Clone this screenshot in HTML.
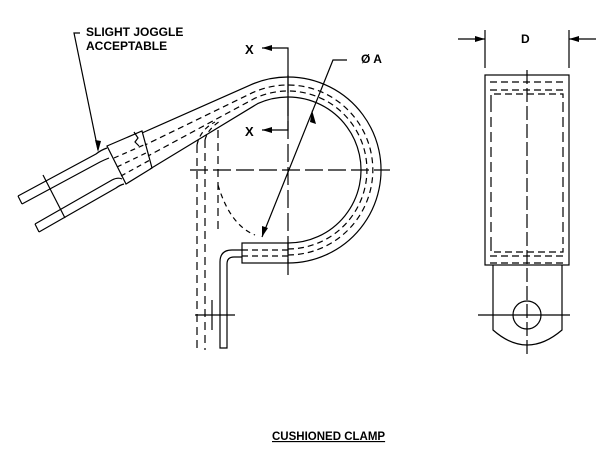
<!DOCTYPE html>
<html><head><style>
body{margin:0;background:#fff;width:600px;height:469px;overflow:hidden}
text{font-family:"Liberation Sans",Arial,sans-serif;font-weight:bold;fill:#000}
</style></head><body>
<svg width="600" height="469" viewBox="0 0 600 469" xmlns="http://www.w3.org/2000/svg">
<g fill="none" stroke="#000" stroke-width="1.2">
<line x1="190" y1="170" x2="390" y2="170" stroke-dasharray="18,5"/>
<line x1="288" y1="75" x2="288" y2="275" stroke-dasharray="18,5"/>
<polyline points="262,48 288,48 288,130 262,130"/>
<!-- clamp loop -->
<path d="M288,263 A93,93 0 1 0 249.4,85.4 L142,133"/>
<path d="M288,243 A73,73 0 1 0 257.7,103.6 L150,169"/>
<path d="M288,255 A85,85 0 1 0 252.7,92.6 L145,145" stroke-dasharray="6,4"/>
<path d="M288,249 A79,79 0 1 0 255.2,98.1 L148,156" stroke-dasharray="6,4"/>
<!-- tab -->
<rect x="242" y="243" width="46" height="20"/>
<line x1="242" y1="250" x2="288" y2="250" stroke-dasharray="6,4"/>
<line x1="242" y1="256" x2="288" y2="256" stroke-dasharray="6,4"/>
<!-- joggle box -->
<polygon points="107,146 142,131 152,168 126,184"/>
<line x1="114" y1="158" x2="146" y2="144" stroke-dasharray="5,4"/>
<line x1="117" y1="167" x2="148" y2="152" stroke-dasharray="5,4"/>
<line x1="121" y1="176" x2="150" y2="160" stroke-dasharray="5,4"/>
<path d="M134,132 l4,6 -3,4 4,4"/>
<!-- rails -->
<path d="M18,196 L96,154 Q101,150 107,148"/>
<path d="M22,204 L100,162 Q104,160 109,158"/>
<line x1="18" y1="196" x2="22" y2="204"/>
<path d="M35,224 L112,180 Q118,177 122,179"/>
<path d="M39,232 L116,188 Q120,185 124,184"/>
<line x1="35" y1="224" x2="39" y2="232"/>
<line x1="43" y1="175" x2="65" y2="218"/>
<!-- phantom lines -->
<line x1="197" y1="145" x2="197" y2="350" stroke-dasharray="8,5"/>
<line x1="205" y1="140" x2="205" y2="350" stroke-dasharray="8,5"/>
<line x1="218" y1="130" x2="218" y2="230" stroke-dasharray="8,5"/>
<path d="M197,145 Q200,130 215,122" stroke-dasharray="5,4"/>
<path d="M205,140 Q208,128 222,120" stroke-dasharray="5,4"/>
<path d="M218,185 Q230,225 255,235" stroke-dasharray="5,4"/>
<line x1="195" y1="315" x2="235" y2="315"/>
<line x1="212" y1="300" x2="212" y2="330"/>
<!-- L piece -->
<path d="M242,250 L232,250 Q220,250 220,262 L220,348 L227,348 L227,264 Q227,257 234,257 L242,257"/>
<polyline points="80,33 74,33 98,150"/>
<polyline points="347,60 333,60 262,237"/>
</g>
<g fill="#000">
<polygon points="262,48 272,45 272,51"/>
<polygon points="262,130 272,127 272,133"/>
<polygon points="98,152 95,140 101,141"/>
<polygon points="262,237 262,226 268,228"/>
<polygon points="312,110 310,122 316,124"/>
</g>
<g fill="none" stroke="#000" stroke-width="1.2">
<rect x="485" y="75" width="84" height="190"/>
<path d="M493,265 L493,330 Q527,360 562,330 L562,265"/>
<circle cx="527" cy="315" r="14"/>
<line x1="478" y1="315" x2="570" y2="315"/>
<line x1="527" y1="70" x2="527" y2="355" stroke-dasharray="14,4"/>
<line x1="490" y1="82" x2="564" y2="82" stroke-dasharray="7,4"/>
<line x1="490" y1="90" x2="564" y2="90" stroke-dasharray="7,4"/>
<polyline points="491,102 491,94 563,94 563,102" stroke-dasharray="7,4"/>
<polyline points="491,244 491,252 563,252 563,244" stroke-dasharray="7,4"/>
<line x1="491" y1="102" x2="491" y2="244" stroke-dasharray="10,5"/>
<line x1="563" y1="102" x2="563" y2="244" stroke-dasharray="10,5"/>
<line x1="490" y1="256" x2="564" y2="256" stroke-dasharray="7,4"/>
<line x1="490" y1="263" x2="564" y2="263" stroke-dasharray="7,4"/>
<line x1="485" y1="30" x2="485" y2="68"/>
<line x1="569" y1="30" x2="569" y2="68"/>
<line x1="458" y1="39" x2="485" y2="39"/>
<line x1="569" y1="39" x2="596" y2="39"/>
</g>
<g fill="#000">
<polygon points="485,39 475,36 475,42"/>
<polygon points="569,39 579,36 579,42"/>
</g>
<text x="86" y="36" font-size="12">SLIGHT JOGGLE</text>
<text x="86" y="50" font-size="12">ACCEPTABLE</text>
<text x="245" y="54" font-size="13">X</text>
<text x="245" y="136" font-size="13">X</text>
<text x="361" y="63" font-size="12">Ø A</text>
<text x="521" y="43" font-size="12">D</text>
<text x="272" y="440" font-size="11.5" text-decoration="underline">CUSHIONED CLAMP</text>
</svg>
</body></html>
